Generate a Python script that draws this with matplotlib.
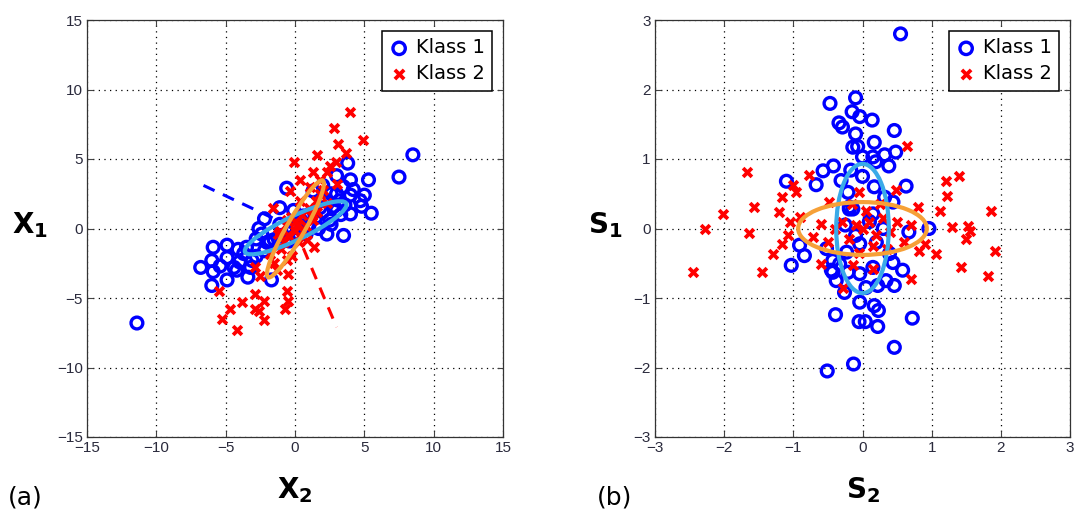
import matplotlib
matplotlib.use("Agg")
import matplotlib.pyplot as plt
from matplotlib.patches import Ellipse
import numpy as np

# ---------------- data: panel (a) ----------------
a_k1_x = [8.5, 7.5, 5.3, 3.8, 3.0, -0.6, 5.0, 4.0, 4.8, 5.5, 4.0, 3.5, 2.3, -1.1, -2.2, -2.6,
          -2.8, -5.9, -4.9, -4.1, -6.0, -6.8, -5.9, -4.9, -4.4, -4.0, -4.9, -6.0, -3.4, -1.7,
          -4.2, -5.4, -3.7, -2.2, 1.3, 2.0, 2.6, 3.2, 3.0, 2.5, 1.7, 0.8, -0.1, -1.1, -1.8,
          -0.4, 0.4, 1.1, 1.8, 3.5, 4.0, 4.7, -3.1, -3.5, -2.4, -11.4,
          0.5, 1.5, 2.0, -0.5, -1.5, 2.8, -2.0, 1.0, 0.0, 3.0, 2.2, -1.0, 0.6, 3.3, -0.2,
          4.2, 3.6, 2.6, -2.8, -3.2]
a_k1_y = [5.3, 3.7, 3.5, 4.7, 3.8, 2.9, 2.4, 2.4, 1.6, 1.1, 1.05, -0.5, -0.4, 1.5, 0.7, 0.0,
          -0.75, -1.35, -1.2, -1.5, -2.3, -2.8, -3.1, -2.1, -2.8, -2.4, -3.7, -4.1, -3.5, -3.7,
          -3.0, -2.7, -1.8, -1.6, 2.7, 3.1, 2.5, 2.0, 1.3, 0.6, 0.0, -0.4, 1.3, 0.3, -0.9,
          -0.9, 0.6, 1.05, 1.5, 3.0, 3.5, 2.0, -2.3, -1.35, -0.4, -6.8,
          0.2, 0.8, 1.2, -0.3, -0.8, 1.6, -1.0, 0.2, -0.5, 2.5, 2.0, -0.5, 0.9, 1.0, 0.0,
          2.8, 1.7, 0.3, -2.0, -2.8]
a_k2_x = [4.0, 2.8, 4.9, 3.1, 3.7, 1.6, 2.95, -0.1, 1.3, 2.3, 0.36, -0.36, -1.6, 1.1, 3.0,
          1.8, 0.36, -0.6, -1.1, 0.0, 1.3, 1.4, 0.84, -1.8, -0.6, -2.9, -2.5, -0.5, -0.6,
          -5.5, -2.9, -2.2, -3.8, -4.7, -2.9, -2.6, -0.7, -5.3, -2.2, -4.2, -0.5,
          0.5, 1.0, -0.5, 0.2, 1.5, -1.0, 0.8, -0.3, 1.2, -1.5, 2.0, 0.6, -0.8, 1.6, 0.0,
          -1.2, 2.3, 0.3, -0.2, 1.8, 2.5, -1.3]
a_k2_y = [8.4, 7.2, 6.4, 6.1, 5.4, 5.3, 4.8, 4.8, 4.05, 4.05, 3.5, 2.7, 1.5, 3.0, 3.2,
          2.5, 2.0, 0.6, -0.15, -0.15, 0.6, -1.35, -0.86, -1.8, -2.3, -2.8, -3.4, -3.3, -4.5,
          -4.5, -4.7, -5.2, -5.3, -5.8, -5.8, -5.9, -5.8, -6.5, -6.6, -7.3, -5.2,
          1.0, 1.5, -0.5, 0.3, 2.0, -1.5, 0.2, 0.8, 0.9, -2.5, 2.8, -0.2, -1.0, 1.2, 0.5,
          -0.4, 1.8, -1.0, -2.0, 3.5, 4.5, -3.0]

# dashed direction lines (start / end points)
a_dash1_x = [-6.6, 0.0]
a_dash1_y = [3.1, 0.0]
a_dash2_x = [0.0, 3.0]
a_dash2_y = [0.0, -7.1]

# ellipses: (cx, cy, semi-major, semi-minor, angle deg)
a_ell_blue = [0.05, 0.05, 4.05, 0.85, 25.6]
a_ell_orange = [0.03, -0.03, 4.0, 0.65, 60.4]

# ---------------- data: panel (b) ----------------
b_k1_x = [0.55, -0.47, -0.1, -0.15, -0.04, 0.14, -0.34, -0.29, -0.1, 0.46, 0.17, -0.14, -0.07,
          0.0, 0.32, 0.48, 0.15, 0.19, 0.38, -0.42, -0.57, -0.17, -1.1, -0.67, -0.31, 0.0,
          0.63, 0.17, -0.21, 0.44, 0.32, -0.19, -0.19, 0.67, 0.96, -1.03, -0.84, -0.91, -0.52,
          -0.45, -0.38, -0.26, -0.04, 0.17, 0.23, -0.39, -0.05, 0.04, 0.22, 0.72, 0.46, -0.51,
          -0.13, 0.46, 0.58, 0.34, 0.05, 0.22, -0.33, -0.21, -0.43, -0.04, 0.15, 0.44, -0.23,
          -0.14, 0.15, -0.04, 0.39, -0.43, 0.1, -0.1, 0.2, -0.25, 0.3]
b_k1_y = [2.8, 1.8, 1.88, 1.68, 1.61, 1.56, 1.52, 1.46, 1.36, 1.41, 1.24, 1.17, 1.18,
          1.03, 1.06, 1.10, 1.03, 0.96, 0.90, 0.90, 0.83, 0.84, 0.68, 0.63, 0.69, 0.75,
          0.61, 0.60, 0.52, 0.38, 0.45, 0.28, 0.31, -0.05, 0.0, -0.53, -0.39, -0.24, -0.29,
          -0.6, -0.75, -0.92, -1.06, -1.11, -1.18, -1.24, -1.34, -1.34, -1.41, -1.29, -1.71, -2.05,
          -1.95, -0.82, -0.6, -0.75, -0.85, -0.82, -0.51, -0.63, -0.63, -0.65, -0.56, -0.49, -0.34,
          0.28, 0.21, -0.22, -0.36, -0.46, 0.1, -0.1, -0.2, 0.05, 0.0]
b_k2_x = [0.65, -1.67, -0.77, 1.39, 1.21, -1.0, -0.96, -1.17, 0.48, 1.22, -0.05, -1.57, -2.02,
          -1.21, 1.12, 0.8, -0.48, -2.28, -1.64, -1.05, 1.29, 1.53, 1.55, 1.49, -2.45, -1.45,
          -1.3, -1.17, -1.08, -0.6, 1.06, 0.91, 0.82, 0.7, 1.43, 0.15, -0.14, -0.28, -0.6,
          -0.72, -0.91, 1.86, 1.92, 1.82,
          0.0, 0.1, -0.1, 0.2, -0.2, 0.05, 0.3, -0.3, 0.15, 0.4, -0.4, 0.5, 0.6, -0.5, 0.25,
          -0.15, 0.7, 0.35, -0.05]
b_k2_y = [1.19, 0.81, 0.77, 0.75, 0.68, 0.62, 0.52, 0.46, 0.56, 0.47, 0.52, 0.31, 0.21,
          0.24, 0.25, 0.31, 0.38, 0.0, -0.06, 0.09, 0.02, 0.04, -0.03, -0.15, -0.63, -0.63,
          -0.37, -0.22, -0.1, -0.51, -0.37, -0.22, -0.32, -0.73, -0.55, -0.58, -0.53, -0.86, 0.06,
          -0.12, 0.16, 0.25, -0.32, -0.68,
          0.0, 0.1, 0.05, -0.1, -0.15, 0.25, 0.15, 0.1, -0.25, -0.05, 0.0, 0.1, -0.2, -0.2, 0.35,
          0.35, 0.05, -0.3, -0.35]

b_ell_blue = [0.0, 0.0, 0.93, 0.38, 90.0]
b_ell_orange = [0.0, 0.0, 0.93, 0.38, 0.0]

a_ticks = [-15, -10, -5, 0, 5, 10, 15]
b_ticks = [-3, -2, -1, 0, 1, 2, 3]

# ---------------- styling ----------------
BLUE = "#0000ff"
RED = "#ff0000"
LBLUE = "#3aaae8"
ORANGE = "#f6a037"
TICKCOL = "#2a2a3c"

plt.rcParams["font.family"] = ["DejaVu Sans"]

fig = plt.figure(figsize=(10.75, 5.17), dpi=100)
ax1 = fig.add_axes([87 / 1075, 1 - 437 / 517, 416 / 1075, 417 / 517])
ax2 = fig.add_axes([655 / 1075, 1 - 437 / 517, 415 / 1075, 417 / 517])


def style(ax, ticks):
    ax.set_xlim(ticks[0], ticks[-1])
    ax.set_ylim(ticks[0], ticks[-1])
    ax.set_xticks(ticks)
    ax.set_yticks(ticks)
    ax.tick_params(direction="in", length=4, width=0.8, top=True, right=True,
                   labelsize=11, labelcolor=TICKCOL, color="#444444", pad=3)
    for lab in ax.get_xticklabels() + ax.get_yticklabels():
        lab.set_family("Liberation Sans")
    ax.grid(True, color="black", linestyle=(0, (1, 3.5)), linewidth=0.9)
    ax.set_axisbelow(True)
    for s in ax.spines.values():
        s.set_color("#333333")
        s.set_linewidth(0.9)


def ell(ax, p, color):
    e = Ellipse((p[0], p[1]), 2 * p[2], 2 * p[3], angle=p[4], fill=False,
                edgecolor=color, linewidth=3.0, zorder=5)
    ax.add_patch(e)


# panel (a)
style(ax1, a_ticks)
ax1.plot(a_dash1_x, a_dash1_y, color=BLUE, linestyle=(0, (4, 3)), linewidth=2.2, zorder=1)
ax1.plot(a_dash2_x, a_dash2_y, color=RED, linestyle=(0, (4, 3)), linewidth=2.2, zorder=1)
ax1.scatter(a_k1_x, a_k1_y, s=72, facecolors="none", edgecolors=BLUE, linewidths=2.4,
            label="Klass 1", zorder=3)
ax1.scatter(a_k2_x, a_k2_y, s=40, marker="x", color=RED, linewidths=2.7,
            label="Klass 2", zorder=4)
ell(ax1, a_ell_blue, LBLUE)
ell(ax1, a_ell_orange, ORANGE)

# panel (b)
style(ax2, b_ticks)
ax2.scatter(b_k1_x, b_k1_y, s=72, facecolors="none", edgecolors=BLUE, linewidths=2.4,
            label="Klass 1", zorder=3)
ax2.scatter(b_k2_x, b_k2_y, s=40, marker="x", color=RED, linewidths=2.7,
            label="Klass 2", zorder=4)
ell(ax2, b_ell_blue, LBLUE)
ell(ax2, b_ell_orange, ORANGE)

for ax in (ax1, ax2):
    leg = ax.legend(loc="upper right", fontsize=14, frameon=True, fancybox=False,
                    edgecolor="black", framealpha=1, borderpad=0.4, handletextpad=0.35,
                    handlelength=1.0, labelspacing=0.35, borderaxespad=0.55,
                    markerscale=1.05)
    leg.get_frame().set_linewidth(1.1)
    leg.set_zorder(10)

# axis labels and panel tags
fig.text(30 / 1075, 1 - 225 / 517, r"$\mathbf{X_1}$", fontsize=20, ha="center", va="center")
fig.text(295 / 1075, 1 - 490 / 517, r"$\mathbf{X_2}$", fontsize=20, ha="center", va="center")
fig.text(605 / 1075, 1 - 225 / 517, r"$\mathbf{S_1}$", fontsize=20, ha="center", va="center")
fig.text(863 / 1075, 1 - 490 / 517, r"$\mathbf{S_2}$", fontsize=20, ha="center", va="center")
fig.text(8 / 1075, 1 - 498 / 517, "(a)", fontsize=18, ha="left", va="center")
fig.text(597 / 1075, 1 - 498 / 517, "(b)", fontsize=18, ha="left", va="center")

fig.savefig("out.png", dpi=100)
